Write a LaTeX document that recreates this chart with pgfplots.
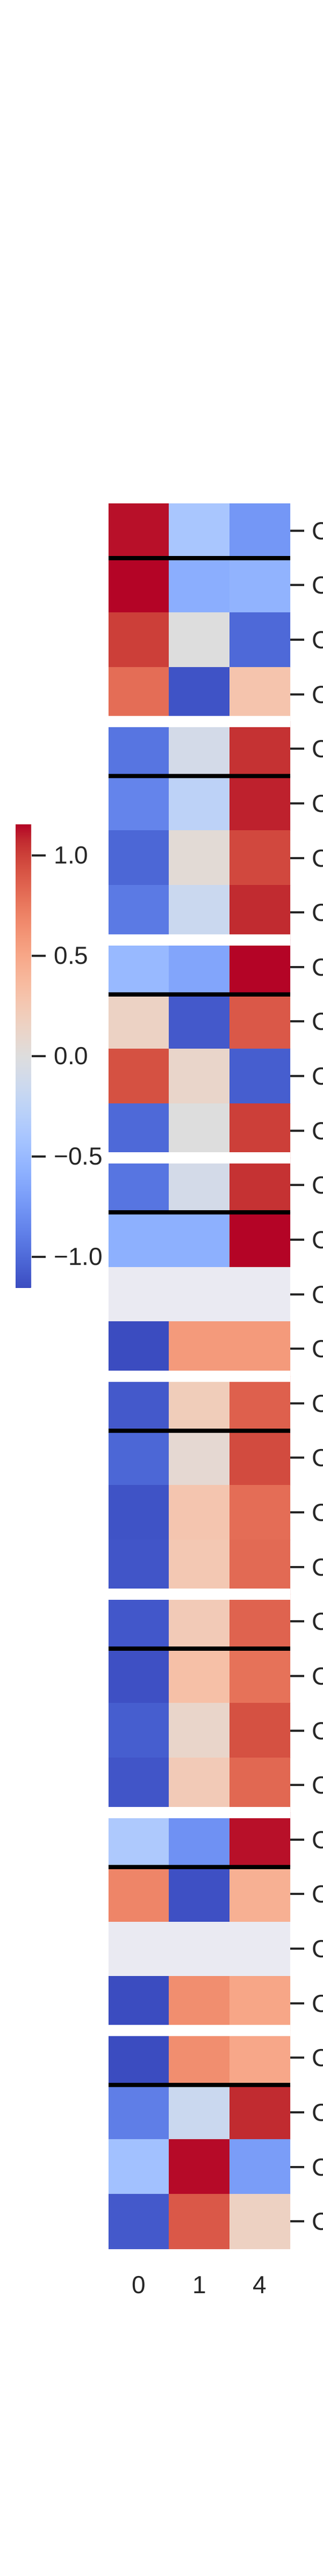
\documentclass[border=0pt]{standalone}
\usepackage{fontspec}
\setmainfont{Liberation Sans}
\usepackage{pgfplots}
\pgfplotsset{compat=1.18}
\definecolor{tickc}{RGB}{38,38,38}
\definecolor{nanbg}{RGB}{234,234,242}
\pgfplotsset{
  colormap={coolwarm}{
    rgb255=(59,76,192) rgb255=(68,90,204) rgb255=(77,104,215) rgb255=(87,117,225)
    rgb255=(98,130,234) rgb255=(108,142,241) rgb255=(119,154,247) rgb255=(130,165,251)
    rgb255=(141,176,254) rgb255=(152,185,255) rgb255=(163,194,255) rgb255=(174,201,253)
    rgb255=(184,208,249) rgb255=(194,213,244) rgb255=(204,217,238) rgb255=(213,219,230)
    rgb255=(221,221,221) rgb255=(229,216,209) rgb255=(236,211,197) rgb255=(241,204,185)
    rgb255=(245,196,173) rgb255=(247,187,160) rgb255=(247,177,148) rgb255=(247,166,135)
    rgb255=(244,154,123) rgb255=(241,141,111) rgb255=(236,127,99) rgb255=(229,112,88)
    rgb255=(222,96,77) rgb255=(213,80,66) rgb255=(203,62,56) rgb255=(192,40,47)
    rgb255=(180,4,38)}
}
\newcommand{\cl}[1]{\makebox[10pt][l]{#1}}
\pgfplotstableread{
x y c
0 0 1.132
1 0 -0.393
2 0 -0.739
0 1 1.155
1 1 -0.589
2 1 -0.554
0 2 1.005
1 2 0.000
2 2 -1.005
0 3 0.809
1 3 -1.120
2 3 0.289
0 4 -0.936
1 4 -0.092
2 4 1.051
0 5 -0.855
1 5 -0.254
2 5 1.097
0 6 -1.016
1 6 0.046
2 6 0.970
0 7 -0.912
1 7 -0.162
2 7 1.074
0 8 -0.508
1 8 -0.647
2 8 1.155
0 9 0.150
1 9 -1.086
2 9 0.901
0 10 0.936
1 10 0.116
2 10 -1.063
0 11 -1.005
1 11 0.000
2 11 1.005
0 12 -0.936
1 12 -0.092
2 12 1.051
0 13 -0.578
1 13 -0.578
2 13 1.155
}\blockA
\pgfplotstableread{
x y c
0 15 -1.155
1 15 0.578
2 15 0.578
0 16 -1.086
1 16 0.208
2 16 0.866
0 17 -1.016
1 17 0.069
2 17 0.959
0 18 -1.120
1 18 0.277
2 18 0.809
0 19 -1.109
1 19 0.254
2 19 0.820
0 20 -1.097
1 20 0.231
2 20 0.855
0 21 -1.132
1 21 0.323
2 21 0.785
0 22 -1.063
1 22 0.116
2 22 0.936
0 23 -1.109
1 23 0.231
2 23 0.832
0 24 -0.358
1 24 -0.774
2 24 1.132
0 25 0.693
1 25 -1.132
2 25 0.439
}\blockB
\pgfplotstableread{
x y c
0 27 -1.155
1 27 0.647
2 27 0.508
0 28 -1.155
1 28 0.647
2 28 0.497
0 29 -0.889
1 29 -0.162
2 29 1.074
0 30 -0.439
1 30 1.143
2 30 -0.705
0 31 -1.086
1 31 0.901
2 31 0.162
}\blockC
\begin{document}
\begin{tikzpicture}
\path (0pt,0pt) rectangle (300pt,2400pt);
\begin{axis}[
  at={(101pt,305pt)}, anchor=south west,
  scale only axis, width=169pt, height=1626pt,
  xmin=-0.5, xmax=2.5, ymin=-0.5, ymax=31.5, y dir=reverse,
  enlargelimits=false,
  axis line style={draw=none},
  axis background/.style={fill=nanbg},
  colormap name=coolwarm,
  point meta min=-1.155, point meta max=1.155,
  xtick={0,1,2}, xticklabels={0,1,4},
  ytick={0,1,...,31},
  yticklabels={\cl{Cluster 0 A},\cl{Cluster 0 B},\cl{Cluster 0 C},\cl{Cluster 0 D},
               \cl{Cluster 1 A},\cl{Cluster 1 B},\cl{Cluster 1 C},\cl{Cluster 1 D},
               \cl{Cluster 2 A},\cl{Cluster 2 B},\cl{Cluster 2 C},\cl{Cluster 2 D},
               \cl{Cluster 3 A},\cl{Cluster 3 B},\cl{Cluster 3 C},\cl{Cluster 3 D},
               \cl{Cluster 4 A},\cl{Cluster 4 B},\cl{Cluster 4 C},\cl{Cluster 4 D},
               \cl{Cluster 5 A},\cl{Cluster 5 B},\cl{Cluster 5 C},\cl{Cluster 5 D},
               \cl{Cluster 6 A},\cl{Cluster 6 B},\cl{Cluster 6 C},\cl{Cluster 6 D},
               \cl{Cluster 7 A},\cl{Cluster 7 B},\cl{Cluster 7 C},\cl{Cluster 7 D}},
  ytick pos=right, yticklabel pos=right,
  xtick align=inside, ytick align=outside,
  major tick length=13pt,
  xtick style={draw=none},
  ytick style={line width=2pt, color=tickc},
  ticklabel style={font=\fontsize{23}{27.6}\selectfont, text=tickc},
  xticklabel style={anchor=base, yshift=-41.5pt, inner sep=0pt},
  yticklabel style={anchor=west, inner sep=0pt, xshift=7pt},
  colorbar,
  colorbar style={
    at={(parent axis.south west)}, anchor=south west,
    xshift=-95pt, yshift=895pt,
    scale only axis, width=15pt, height=432pt,
    axis line style={draw=none},
    ytick={-1,-0.5,0,0.5,1},
    yticklabels={−1.0,−0.5,0.0,0.5,1.0},
    ytick pos=right, yticklabel pos=right,
    ytick align=outside, major tick length=13pt,
    ytick style={line width=2pt, color=tickc},
    yticklabel style={font=\fontsize{23}{27.6}\selectfont, text=tickc, anchor=west, inner sep=0pt, xshift=7.5pt},
  },
]
\addplot[matrix plot*, mesh/cols=3, point meta=explicit] table[x=x, y=y, meta=c] {\blockA};
\addplot[matrix plot*, mesh/cols=3, point meta=explicit] table[x=x, y=y, meta=c] {\blockB};
\addplot[matrix plot*, mesh/cols=3, point meta=explicit] table[x=x, y=y, meta=c] {\blockC};
\addplot[black, line width=4pt, forget plot] coordinates {(-0.5,0.5) (2.5,0.5)};
\addplot[black, line width=4pt, forget plot] coordinates {(-0.5,4.5) (2.5,4.5)};
\addplot[black, line width=4pt, forget plot] coordinates {(-0.5,8.5) (2.5,8.5)};
\addplot[black, line width=4pt, forget plot] coordinates {(-0.5,12.5) (2.5,12.5)};
\addplot[black, line width=4pt, forget plot] coordinates {(-0.5,16.5) (2.5,16.5)};
\addplot[black, line width=4pt, forget plot] coordinates {(-0.5,20.5) (2.5,20.5)};
\addplot[black, line width=4pt, forget plot] coordinates {(-0.5,24.5) (2.5,24.5)};
\addplot[black, line width=4pt, forget plot] coordinates {(-0.5,28.5) (2.5,28.5)};
\addplot[white, line width=10.5pt, forget plot] coordinates {(-0.5,3.5) (2.5,3.5)};
\addplot[white, line width=10.5pt, forget plot] coordinates {(-0.5,7.5) (2.5,7.5)};
\addplot[white, line width=10.5pt, forget plot] coordinates {(-0.5,11.5) (2.5,11.5)};
\addplot[white, line width=10.5pt, forget plot] coordinates {(-0.5,15.5) (2.5,15.5)};
\addplot[white, line width=10.5pt, forget plot] coordinates {(-0.5,19.5) (2.5,19.5)};
\addplot[white, line width=10.5pt, forget plot] coordinates {(-0.5,23.5) (2.5,23.5)};
\addplot[white, line width=10.5pt, forget plot] coordinates {(-0.5,27.5) (2.5,27.5)};
\end{axis}
\end{tikzpicture}
\end{document}
